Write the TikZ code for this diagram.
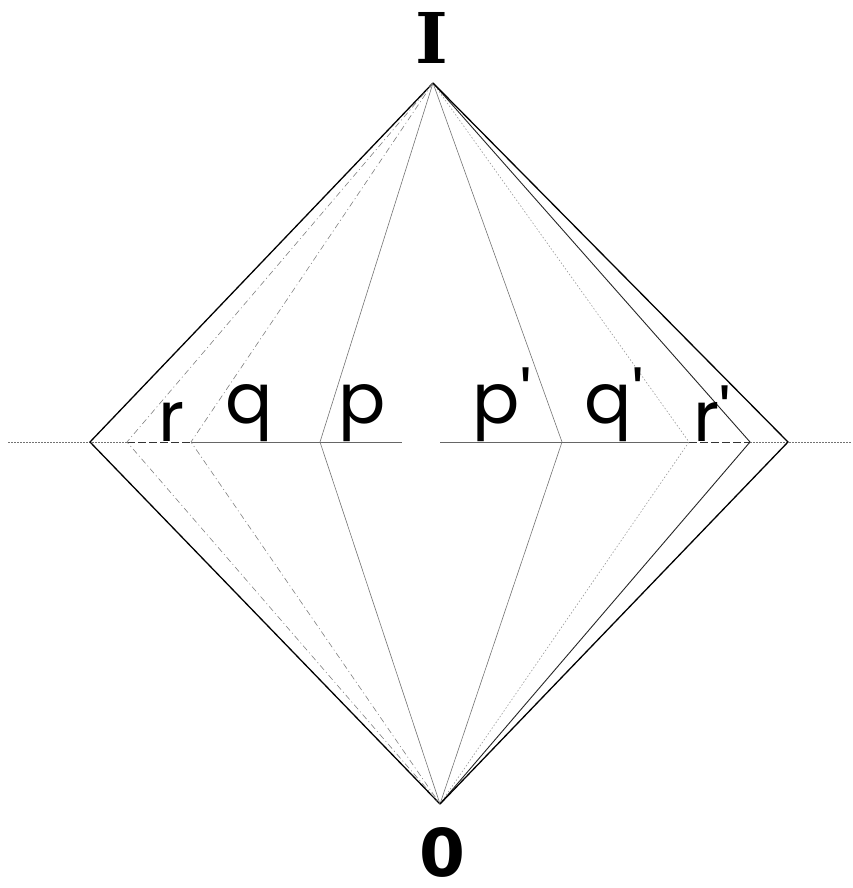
\documentclass[tikz,border=0pt]{standalone}
\usepackage{fontspec}
\newfontfamily\labelfont{Poppins}
\newfontfamily\topfont{DejaVu Serif}
\newfontfamily\botfont{DejaVu Sans}
\usetikzlibrary{positioning}

\begin{document}
\begin{tikzpicture}[
    x=1pt, y=-1pt,
    edgeouter/.style={line width=1.3pt, color=black},
    edgedark/.style={line width=0.9pt, color=black!85},
    edgegray/.style={line width=0.6pt, color=black!55},
    edgedashdot/.style={line width=0.6pt, color=black!50, dash pattern=on 6pt off 3pt on 1pt off 3pt},
    edgedot/.style={line width=0.6pt, color=black!40, dash pattern=on 1.5pt off 2pt},
    axisdot/.style={line width=0.6pt, color=black!55, dash pattern=on 1.5pt off 1.5pt},
    axisdash/.style={line width=1pt, color=black!80, dash pattern=on 8pt off 3pt},
    axisline/.style={line width=0.8pt, color=black!60},
    ptlabel/.style={font=\labelfont\fontsize{70}{70}\selectfont, anchor=south, inner sep=0pt},
]
\useasboundingbox (0,0) rectangle (852,888);

% vertices
\coordinate (top) at (433,83);
\coordinate (bot) at (440,804);

% points on the axis
\coordinate (lo) at (90,442);
\coordinate (r) at (127,442);
\coordinate (q) at (191,442);
\coordinate (p) at (320,442);
\coordinate (pp) at (562,442);
\coordinate (qq) at (689,442);
\coordinate (rr) at (750,442);
\coordinate (ro) at (788,442);
\coordinate (lend) at (8,442);
\coordinate (rend) at (852,442);
\coordinate (gapl) at (402,442);
\coordinate (gapr) at (440,442);

% axis
\draw[axisdot] (lend) -- (r);
\draw[axisdash] (r) -- (q);
\draw[axisline] (q) -- (gapl);
\draw[axisline] (gapr) -- (qq);
\draw[axisdash] (qq) -- (rr);
\draw[axisdot] (rr) -- (rend);

% edges to both vertices
\foreach \pt/\sty in {lo/edgeouter, r/edgedashdot, q/edgedashdot, p/edgegray,
                      pp/edgegray, qq/edgedot, rr/edgedark, ro/edgeouter} {
    \draw[\sty] (top) -- (\pt) -- (bot);
}

% labels
\node[font=\topfont\bfseries\fontsize{70}{70}\selectfont, inner sep=0pt] (lbltop) at (432,38) {I};
\node[font=\botfont\bfseries\fontsize{66}{66}\selectfont, inner sep=0pt] (lblbot) at (442,852) {0};

\node[ptlabel] (lblr) at (172,442) {r};
\node[ptlabel] (lblq) at (249,442) {q};
\node[ptlabel] (lblp) at (362,442) {p};
\node[ptlabel] (lblpp) at (502,442) {p\char"27};
\node[ptlabel] (lblqq) at (614,442) {q\char"27};
\node[ptlabel] (lblrr) at (712,442) {r\char"27};
\end{tikzpicture}
\end{document}
